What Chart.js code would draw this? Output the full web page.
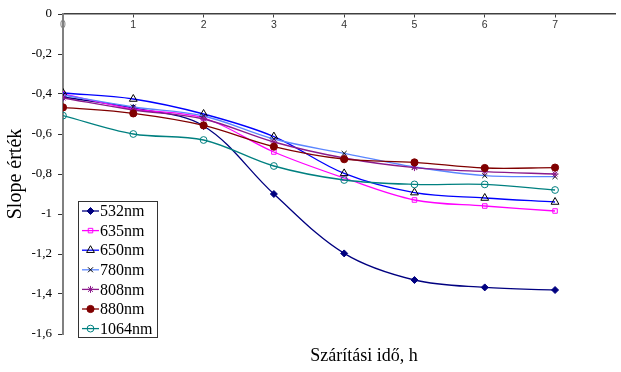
<!DOCTYPE html>
<html>
<head>
<meta charset="utf-8">
<script src="https://cdn.jsdelivr.net/npm/chart.js@4.4.1/dist/chart.umd.min.js"></script>
<style>
  html, body { margin: 0; padding: 0; background: #ffffff; }
  canvas { display: block; }
</style>
</head>
<body>
<canvas id="c" width="621" height="372"></canvas>
<script>
// ---- data ----
const xValues = [0, 1, 2, 3, 4, 5, 6, 7];
const seriesNames = ['532nm', '635nm', '650nm', '780nm', '808nm', '880nm', '1064nm'];
const s532  = [-0.415, -0.47, -0.56, -0.90, -1.197, -1.33, -1.367, -1.38];
const s635  = [-0.40, -0.475, -0.52, -0.69, -0.82, -0.93, -0.96, -0.985];
const s650  = [-0.395, -0.425, -0.50, -0.613, -0.797, -0.893, -0.92, -0.94];
const s780  = [-0.405, -0.465, -0.51, -0.625, -0.697, -0.765, -0.808, -0.813];
const s808  = [-0.42, -0.48, -0.525, -0.64, -0.72, -0.768, -0.788, -0.80];
const s880  = [-0.467, -0.497, -0.557, -0.663, -0.726, -0.742, -0.77, -0.768];
const s1064 = [-0.508, -0.60, -0.63, -0.76, -0.83, -0.852, -0.852, -0.88];
const yTicks = [0, -0.2, -0.4, -0.6, -0.8, -1, -1.2, -1.4, -1.6];
const xTicks = [0, 1, 2, 3, 4, 5, 6, 7];
const yTitle = 'Slope érték';
const xTitle = 'Szárítási idő, h';

// ---- styles ----
const styles = [
  { line: '#000080', pt: 'rectRot', ptBorder: '#000080', ptFill: '#000080', r: 3.5 },
  { line: '#ff00ff', pt: 'rect', ptBorder: '#ff00ff', ptFill: 'rgba(0,0,0,0)', r: 3.2 },
  { line: '#0000ff', pt: 'triangle', ptBorder: '#000000', ptFill: 'rgba(0,0,0,0)', r: 4.5 },
  { line: '#5b86ff', pt: 'crossRot', ptBorder: '#000000', ptFill: '#000000', r: 3.5 },
  { line: '#8b1a8b', pt: 'star', ptBorder: '#8b1a8b', ptFill: '#8b1a8b', r: 3.5 },
  { line: '#800000', pt: 'circle', ptBorder: '#800000', ptFill: '#800000', r: 3.6 },
  { line: '#008080', pt: 'circle', ptBorder: '#008080', ptFill: 'rgba(0,0,0,0)', r: 3.4 }
];
const allSeries = [s532, s635, s650, s780, s808, s880, s1064];

const datasets = allSeries.map((vals, i) => ({
  label: seriesNames[i],
  data: vals.map((v, k) => ({ x: xValues[k], y: v })),
  borderColor: styles[i].line,
  borderWidth: 1.3,
  backgroundColor: styles[i].ptFill,
  pointStyle: styles[i].pt,
  pointRadius: styles[i].r,
  pointBorderColor: styles[i].ptBorder,
  pointBackgroundColor: styles[i].ptFill,
  pointBorderWidth: 1,
  tension: 0.35,
  fill: false,
  order: allSeries.length - i
}));

function fmt(v) {
  const n = Number(Number(v).toFixed(1));
  return (n === 0 ? '0' : String(n)).replace('.', ',');
}

const legendPlugin = {
  id: 'customLegend',
  afterDraw(chart) {
    const ctx = chart.ctx;
    ctx.save();
    const bx = 78.5, by = 201.5, bw = 79, bh = 136;
    ctx.fillStyle = '#ffffff';
    ctx.fillRect(bx, by, bw, bh);
    ctx.strokeStyle = '#333333';
    ctx.lineWidth = 1;
    ctx.strokeRect(bx, by, bw, bh);
    chart.data.datasets.forEach((ds, i) => {
      const y = 211 + i * 19.6;
      ctx.strokeStyle = ds.borderColor;
      ctx.lineWidth = 1.3;
      ctx.beginPath();
      ctx.moveTo(82, y);
      ctx.lineTo(99, y);
      ctx.stroke();
      ctx.strokeStyle = ds.pointBorderColor;
      ctx.fillStyle = ds.pointBackgroundColor;
      ctx.lineWidth = 1;
      Chart.helpers.drawPoint(ctx, { pointStyle: ds.pointStyle, rotation: 0, radius: ds.pointRadius, borderWidth: 1 }, 90.5, y);
      ctx.fillStyle = '#000000';
      ctx.font = '16px "Liberation Serif", "Times New Roman", serif';
      ctx.textAlign = 'left';
      ctx.textBaseline = 'middle';
      ctx.fillText(ds.label, 100, y + 1);
    });
    // x axis title
    ctx.fillStyle = '#000000';
    ctx.font = '18px "Liberation Serif", "Times New Roman", serif';
    ctx.textAlign = 'center';
    ctx.textBaseline = 'middle';
    ctx.fillText(xTitle, 364, 356);
    ctx.restore();
  }
};

new Chart(document.getElementById('c'), {
  type: 'line',
  data: { datasets },
  options: {
    responsive: false,
    animation: false,
    devicePixelRatio: 1,
    layout: { padding: { left: 0, right: 0, top: 14, bottom: 38 } },
    plugins: { legend: { display: false }, tooltip: { enabled: false } },
    scales: {
      x: {
        type: 'linear',
        min: 0,
        max: 7.86,
        position: { y: 0 },
        grid: { display: true, drawOnChartArea: false, tickLength: 3, tickColor: '#404040', tickWidth: 1 },
        border: { display: true, color: '#404040', width: 1.5 },
        afterBuildTicks(scale) { scale.ticks = xTicks.map(v => ({ value: v })); },
        ticks: {
          includeBounds: false,
          padding: 2,
          color: (c) => (c.tick && c.tick.value === 0 ? '#808080' : '#333333'),
          font: { family: '"Liberation Sans", Arial, sans-serif', size: 10.5 },
          callback: (v) => String(v)
        }
      },
      y: {
        type: 'linear',
        min: -1.6,
        max: 0,
        position: 'left',
        afterFit(scale) { scale.width = 63; },
        afterBuildTicks(scale) { scale.ticks = yTicks.map(v => ({ value: v })); },
        grid: { display: true, drawOnChartArea: false, tickLength: 5, tickColor: '#333333', tickWidth: 1 },
        border: { display: true, color: '#808080', width: 2 },
        ticks: {
          padding: 6,
          color: '#000000',
          font: { family: '"Liberation Serif", "Times New Roman", serif', size: 13 },
          callback: (v) => fmt(v)
        },
        title: {
          display: true,
          text: yTitle,
          color: '#000000',
          font: { family: '"Liberation Serif", "Times New Roman", serif', size: 20 },
          padding: { top: 4, bottom: 0 }
        }
      }
    }
  },
  plugins: [legendPlugin]
});
</script>
</body>
</html>
